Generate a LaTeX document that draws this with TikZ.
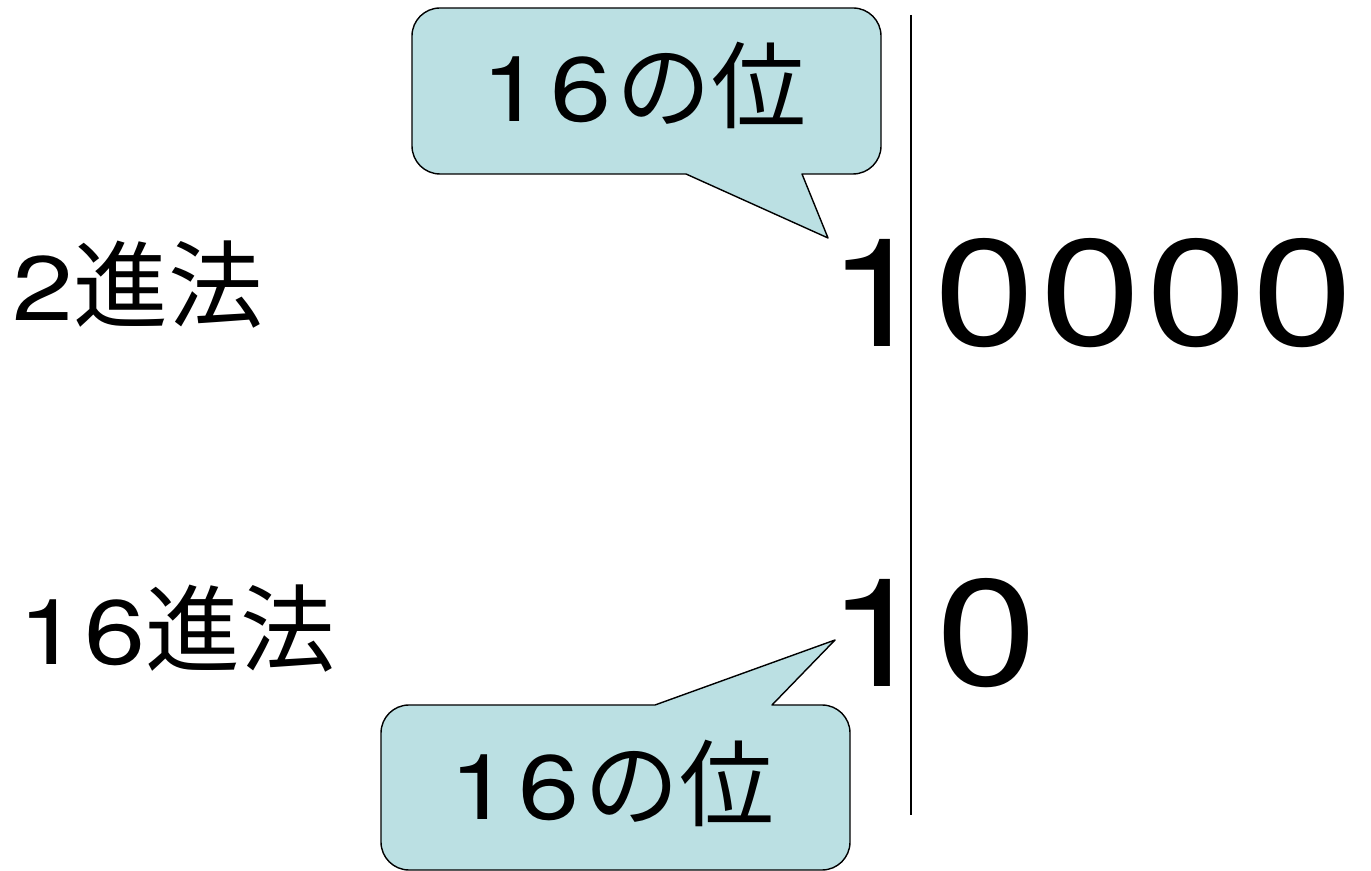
\documentclass[tikz,border=0pt]{standalone}
\usepackage{fontspec}
\newfontfamily\jpfont{Noto Sans CJK JP}
\newfontfamily\digitfont[FakeStretch=1.2]{TeX Gyre Heros}
\definecolor{bubblefill}{RGB}{187,224,227}
\def\rad{0.56cm}
\newcommand{\dg}[1]{{\digitfont\fontsize{52}{52}\selectfont #1}}
\tikzset{
  label/.style={font=\jpfont\fontsize{54}{54}\selectfont, inner sep=0pt},
  bigdigit/.style={font=\digitfont\fontsize{86}{86}\selectfont, inner sep=0pt},
  bubble/.style={draw=black, line width=0.8pt, fill=bubblefill, line join=round}
}
\begin{document}
\begin{tikzpicture}[x=0.02cm,y=0.02cm]
        \useasboundingbox (0,0) rectangle (1371,871);
        % top callout
        \draw[bubble] (686,697) -- (440,697) arc[start angle=270,end angle=180,radius=\rad]
            -- (412,835) arc[start angle=180,end angle=90,radius=\rad]
            -- (853,863) arc[start angle=90,end angle=0,radius=\rad]
            -- (881,725) arc[start angle=0,end angle=-90,radius=\rad]
            -- (802,697) -- (828,633) -- cycle;
        \node[label] (ctop) at (644,786) {\dg{1}\kern0.08em\dg{6}\kern0.06emの位};
        % bottom callout
        \draw[bubble] (655,166) -- (409,166) arc[start angle=90,end angle=180,radius=\rad]
            -- (381,29) arc[start angle=180,end angle=270,radius=\rad]
            -- (822,1) arc[start angle=270,end angle=360,radius=\rad]
            -- (850,138) arc[start angle=0,end angle=90,radius=\rad]
            -- (772,166) -- (835,231) -- cycle;
        \node[label] (cbot) at (612,88) {\dg{1}\kern0.08em\dg{6}\kern0.06emの位};
        % row labels
        \node[label,anchor=west] (lbin) at (12,586) {\dg{2}進法};
        \node[label,anchor=west] (lhex) at (18,242) {\dg{1}\kern0.06em\dg{6}進法};
        % binary digits
        \node[bigdigit] (b1) at (878,578) {1};
        \foreach \i/\xx in {1/985,2/1091,3/1197,4/1303}
            \node[bigdigit] (b0\i) at (\xx,578) {0};
        % hex digits
        \node[bigdigit] (h1) at (878,238) {1};
        \node[bigdigit] (h0) at (987,238) {0};
        % divider
        \coordinate (dtop) at (911,856);
        \coordinate (dbot) at (911,56);
        \draw[line width=1.1pt] (dtop) -- (dbot);
\end{tikzpicture}
\end{document}
